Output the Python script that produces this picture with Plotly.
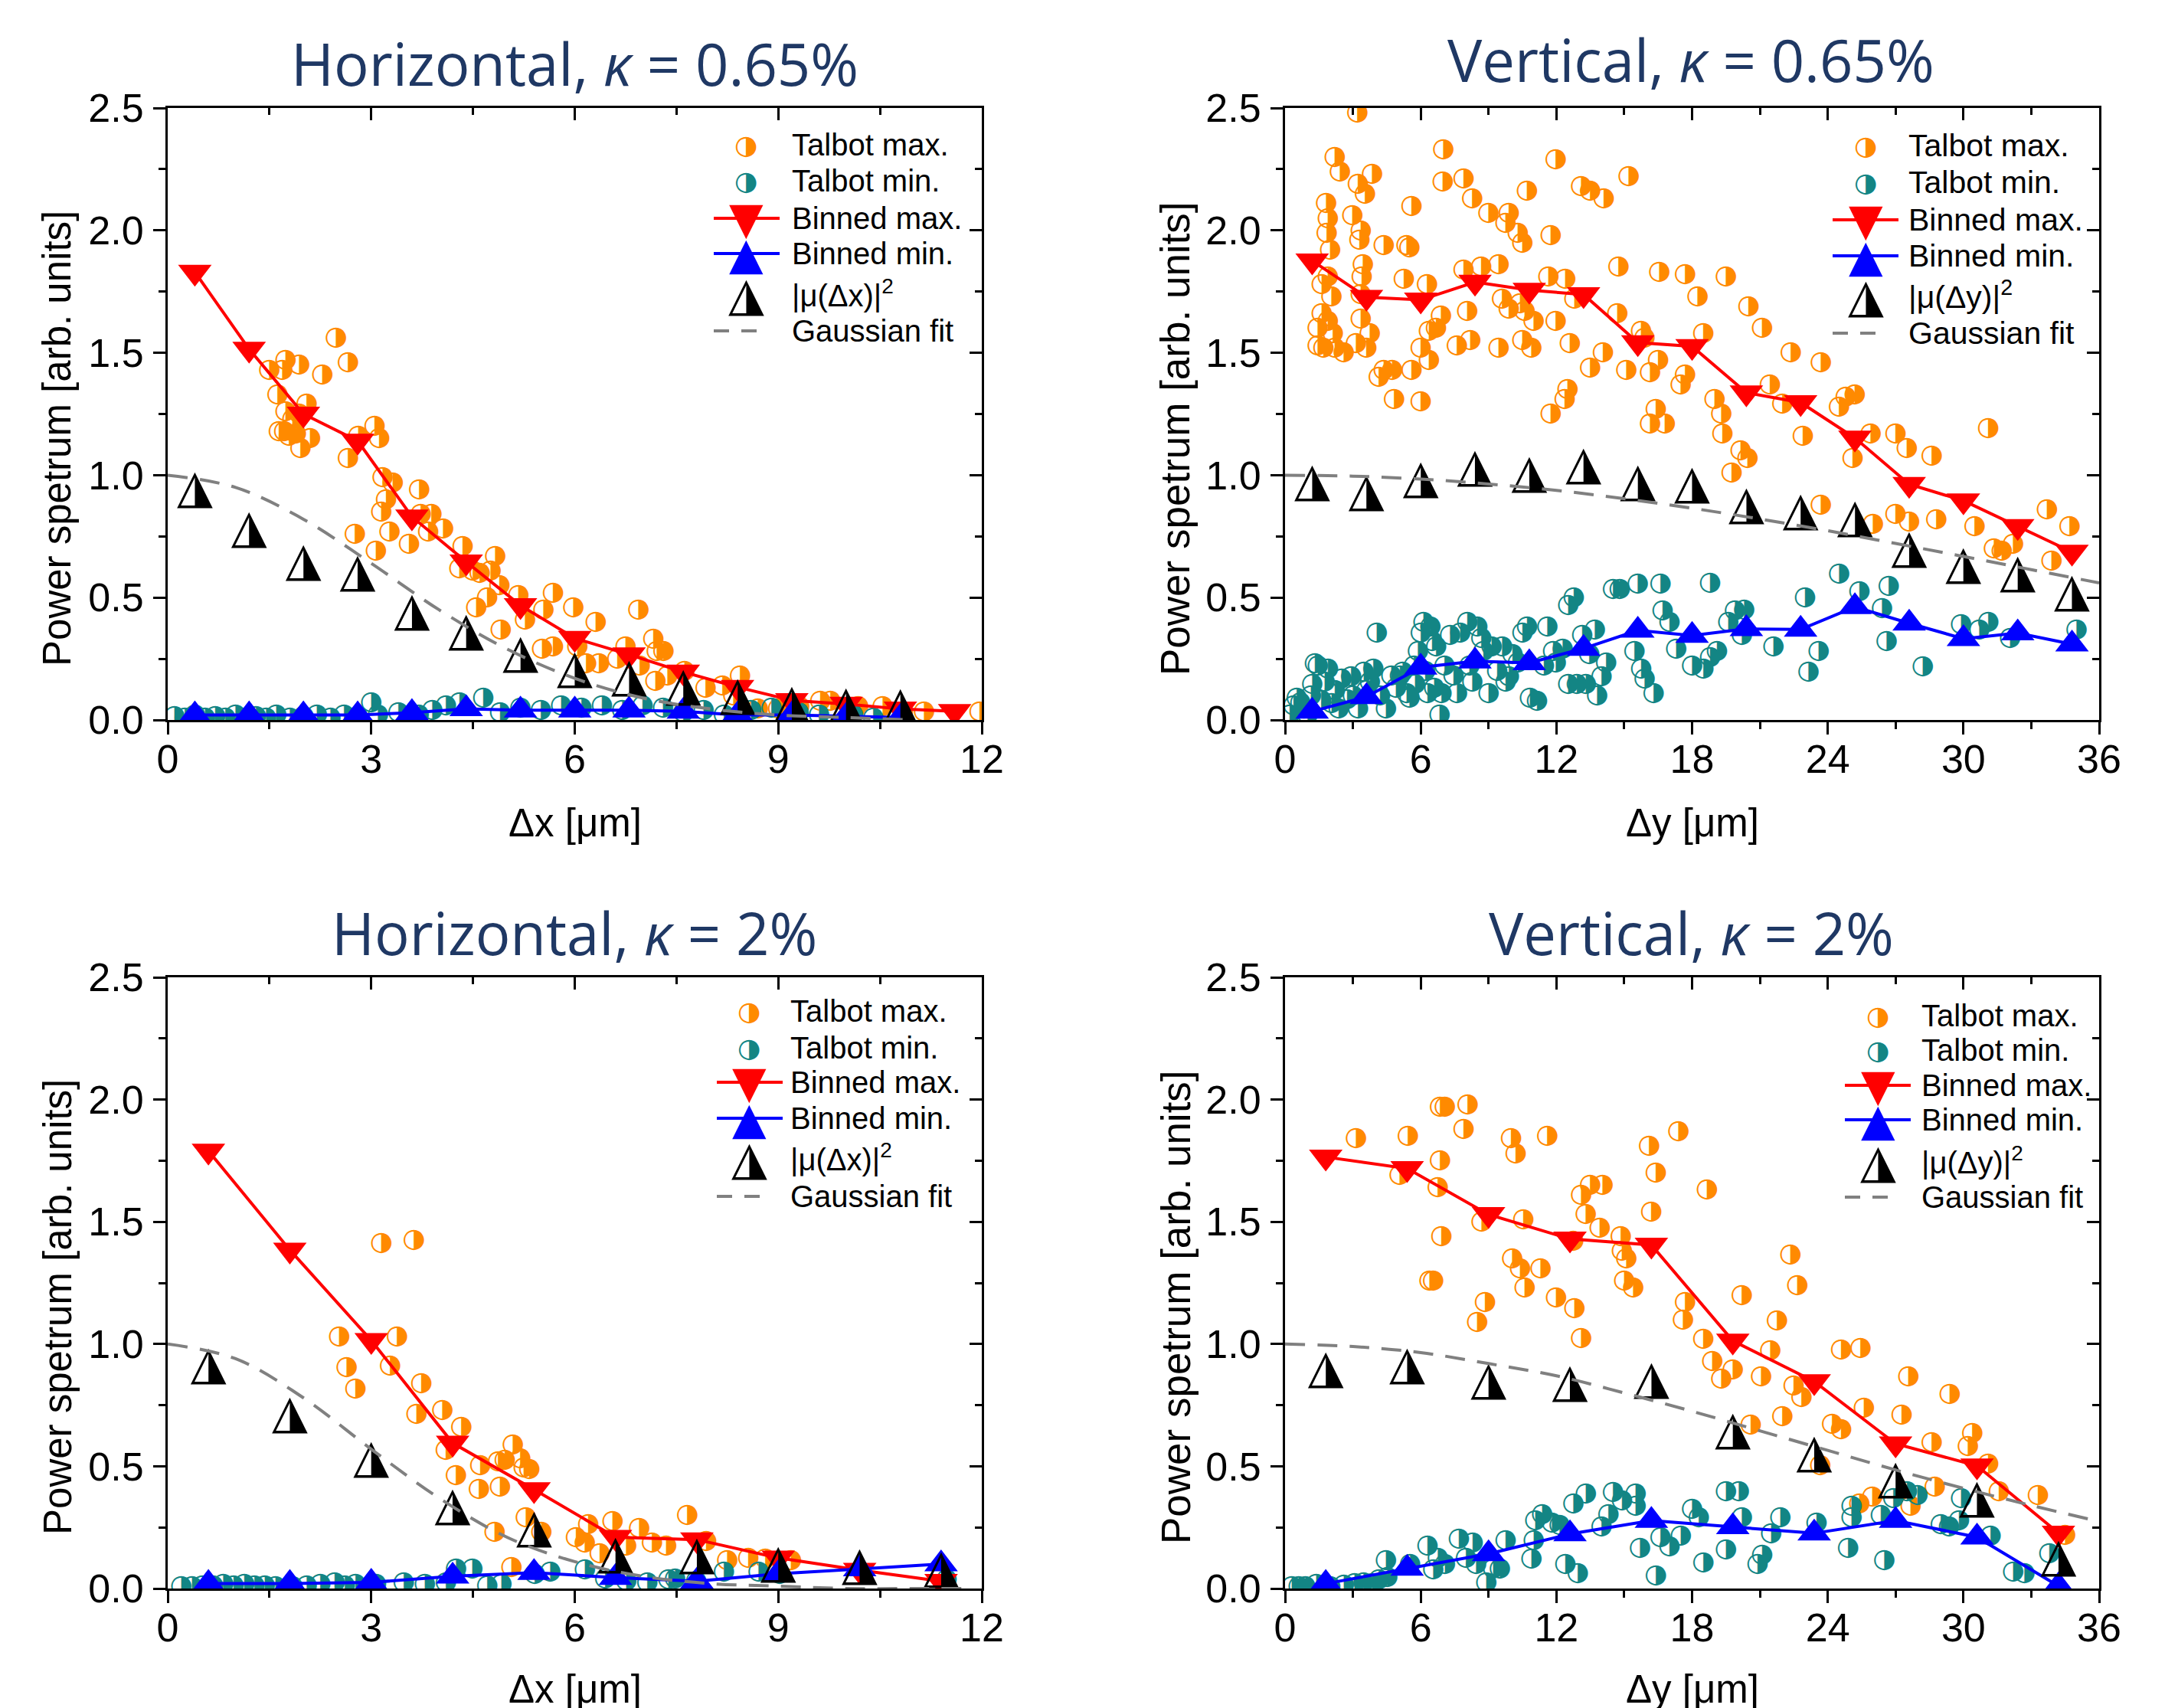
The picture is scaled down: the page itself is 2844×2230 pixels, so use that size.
import plotly.graph_objects as go

W, H = 2844, 2230
PAGE_OFFSET = 8  # the page body margin shifts the figure by this many pixels
ORANGE = '#FF8A00'
TEAL = '#138584'
RED = '#FF0000'
BLUE = '#0000FF'
GRAY = '#808080'
NAVY = '#1F3864'
SANS = 'Liberation Sans, Arial, sans-serif'
GLYPH = 'DejaVu Sans'

# ---------------- Panel A: Horizontal, kappa = 0.65 % ----------------
a_tmax_x = [1.50, 1.69, 1.74, 1.94, 2.28, 2.48, 2.66, 1.62, 1.74, 1.84,
            1.64, 1.79, 1.89, 1.96, 2.10, 2.05, 1.94, 1.72, 2.66, 2.81,
            3.05, 3.12, 3.17, 3.22, 3.32, 3.15, 3.27, 2.76, 3.07, 3.56,
            3.71, 3.73, 3.89, 4.06, 3.84, 4.35, 4.30, 4.50, 4.60, 4.76,
            4.83, 4.89, 4.71, 4.55, 4.91, 5.17, 5.27, 5.54, 5.68, 5.52,
            5.68, 5.98, 6.31, 6.04, 6.17, 6.36, 6.63, 6.75, 6.94, 6.96,
            7.16, 7.21, 7.31, 7.19, 7.37, 7.62, 7.93, 8.18, 8.44, 8.34,
            8.70, 9.00, 9.31, 9.62, 9.77, 10.18, 10.54, 10.84, 11.15, 11.97]
a_tmax_y = [1.43, 1.43, 1.47, 1.45, 1.41, 1.56, 1.46, 1.33, 1.26, 1.23,
            1.18, 1.16, 1.17, 1.11, 1.15, 1.29, 1.25, 1.18, 1.07, 1.16,
            1.20, 1.15, 0.99, 0.90, 0.97, 0.85, 0.77, 0.76, 0.69, 0.72,
            0.94, 0.84, 0.84, 0.78, 0.77, 0.71, 0.62, 0.61, 0.60, 0.61,
            0.67, 0.55, 0.50, 0.46, 0.37, 0.51, 0.41, 0.45, 0.52, 0.29,
            0.30, 0.46, 0.40, 0.30, 0.23, 0.23, 0.25, 0.30, 0.45, 0.22,
            0.33, 0.28, 0.28, 0.16, 0.18, 0.20, 0.13, 0.14, 0.18, 0.10,
            0.045, 0.045, 0.056, 0.078, 0.078, 0.056, 0.056, 0.033, 0.033, 0.033]
a_tmin_x = [0.1, 0.25, 0.4, 0.55, 0.7, 0.85, 1.0, 1.15, 1.3, 1.45,
            1.6, 1.8, 2.0, 2.2, 2.4, 2.6, 2.8, 3.0, 3.1, 3.4,
            3.7, 3.9, 4.1, 4.3, 4.65, 4.9, 5.2, 5.5, 5.8, 6.1,
            6.4, 6.7, 7.0, 7.3, 7.6, 7.9, 8.2, 8.6, 8.9, 9.3,
            9.6, 10.1, 10.4]
a_tmin_y = [0.015, 0.01, 0.02, 0.01, 0.015, 0.01, 0.02, 0.01, 0.015, 0.01,
            0.02, 0.01, 0.015, 0.02, 0.01, 0.02, 0.015, 0.07, 0.02, 0.03,
            0.02, 0.04, 0.06, 0.07, 0.09, 0.03, 0.05, 0.04, 0.06, 0.05,
            0.06, 0.04, 0.06, 0.05, 0.03, 0.04, 0.02, 0.04, 0.05, 0.03,
            0.02, 0.02, 0.01]
a_bmax_x = [0.4, 1.2, 2.0, 2.8, 3.6, 4.4, 5.2, 6.0, 6.8, 7.6, 8.4, 9.2, 10.0, 10.8, 11.6]
a_bmax_y = [1.83, 1.515, 1.25, 1.14, 0.83, 0.646, 0.468, 0.334, 0.267, 0.196, 0.134, 0.08, 0.065, 0.045, 0.035]
a_bmin_x = [0.4, 1.2, 2.0, 2.8, 3.6, 4.4, 5.2, 6.0, 6.8, 7.6, 8.4, 9.2, 10.0, 10.8]
a_bmin_y = [0.02, 0.02, 0.02, 0.02, 0.03, 0.045, 0.04, 0.04, 0.04, 0.035, 0.02, 0.02, 0.015, 0.01]
a_mu_x = [0.4, 1.2, 2.0, 2.8, 3.6, 4.4, 5.2, 6.0, 6.8, 7.6, 8.4, 9.2, 10.0, 10.8]
a_mu_y = [0.935, 0.775, 0.64, 0.595, 0.437, 0.355, 0.265, 0.20, 0.166, 0.13, 0.09, 0.06, 0.055, 0.05]
a_fit_x = [0, 1, 2, 3, 4, 5, 6, 7, 8, 9, 10, 11]
a_fit_y = [1.0, 0.95, 0.82, 0.64, 0.45, 0.29, 0.17, 0.09, 0.045, 0.02, 0.01, 0.0]

# ---------------- Panel B: Vertical, kappa = 0.65 % ----------------
b_tmax_x = [3.2, 2.2, 2.43, 3.23, 3.85, 3.54, 7.0, 6.98, 7.9, 8.28,
            11.97, 10.7, 13.1, 13.5, 14.1, 15.2, 1.82, 1.9, 1.85, 2.0,
            2.98, 3.35, 3.29, 4.37, 5.6, 5.38, 5.5, 9.0, 9.9, 9.75,
            10.3, 10.5, 11.75, 1.63, 1.9, 2.06, 3.45, 3.4, 3.35, 1.63,
            1.45, 1.9, 2.12, 1.45, 1.7, 2.2, 2.6, 3.14, 3.6, 3.75,
            3.35, 5.26, 6.28, 7.9, 8.68, 9.45, 8.06, 6.9, 6.68, 6.37,
            6.0, 7.6, 8.2, 9.45, 9.6, 9.9, 10.4, 10.6, 11.0, 10.5,
            10.9, 11.65, 11.97, 12.6, 12.8, 12.4, 4.15, 4.37, 4.74, 4.83,
            5.6, 6.0, 6.37, 13.5, 14.06, 14.7, 14.75, 15.1, 15.75, 15.9,
            16.15, 16.5, 16.55, 16.15, 16.8, 16.4, 11.75, 12.37, 12.5, 17.7,
            18.25, 18.5, 17.5, 17.7, 19.0, 19.3, 19.5, 19.35, 20.15, 20.46,
            19.75, 20.5, 21.1, 21.45, 22.0, 22.37, 22.9, 23.7, 23.7, 24.5,
            24.8, 25.2, 25.1, 25.9, 26.0, 27.0, 27.5, 28.6, 27.0, 27.6,
            28.8, 31.1, 30.5, 31.35, 31.7, 32.2, 33.7, 33.9, 34.7]
b_tmax_y = [2.48, 2.30, 2.24, 2.19, 2.23, 2.15, 2.33, 2.20, 2.21, 2.13,
            2.29, 2.16, 2.18, 2.16, 2.13, 2.22, 2.11, 2.05, 1.99, 1.92,
            2.06, 2.00, 1.96, 1.94, 2.10, 1.94, 1.93, 2.07, 2.07, 2.03,
            1.99, 1.95, 1.98, 1.78, 1.81, 1.73, 1.86, 1.81, 1.74, 1.66,
            1.60, 1.63, 1.58, 1.53, 1.52, 1.52, 1.50, 1.54, 1.52, 1.58,
            1.64, 1.80, 1.78, 1.84, 1.85, 1.86, 1.67, 1.65, 1.60, 1.59,
            1.52, 1.53, 1.55, 1.52, 1.72, 1.68, 1.70, 1.67, 1.63, 1.55,
            1.52, 1.81, 1.63, 1.54, 1.72, 1.80, 1.40, 1.43, 1.43, 1.31,
            1.43, 1.30, 1.47, 1.44, 1.50, 1.66, 1.85, 1.43, 1.59, 1.56,
            1.42, 1.47, 1.83, 1.21, 1.21, 1.27, 1.25, 1.31, 1.35, 1.82,
            1.73, 1.58, 1.37, 1.41, 1.31, 1.25, 1.81, 1.17, 1.10, 1.07,
            1.01, 1.69, 1.60, 1.37, 1.29, 1.50, 1.16, 1.46, 0.88, 1.28,
            1.32, 1.33, 1.07, 1.17, 0.80, 1.17, 1.11, 1.08, 0.84, 0.81,
            0.82, 1.19, 0.79, 0.70, 0.69, 0.72, 0.86, 0.65, 0.79]
b_tmin_x = [0.2, 0.37, 0.52, 0.68, 0.83, 1.0, 1.2, 1.32, 1.45, 1.14,
            1.6, 1.75, 1.9, 2.06, 2.2, 2.37, 2.5, 2.74, 2.92, 3.0,
            3.23, 3.48, 3.6, 3.75, 3.9, 4.06, 4.2, 4.46, 4.7, 4.9,
            5.08, 5.2, 5.38, 5.5, 5.7, 5.75, 5.88, 6.0, 6.12, 6.2,
            6.3, 6.43, 6.5, 6.6, 6.68, 6.83, 6.92, 7.05, 7.3, 7.45,
            7.6, 7.75, 8.06, 8.15, 8.28, 8.5, 8.68, 8.77, 9.0, 9.14,
            9.38, 9.6, 9.75, 9.9, 10.06, 10.3, 10.5, 10.7, 10.83, 11.14,
            11.45, 11.6, 11.85, 11.97, 12.28, 12.52, 12.77, 12.52, 12.9, 13.14,
            13.3, 13.45, 13.7, 13.8, 14.0, 14.2, 14.5, 14.8, 15.45, 15.6,
            15.75, 15.9, 16.3, 16.6, 16.7, 17.0, 17.3, 18.0, 18.5, 18.8,
            19.1, 18.8, 19.6, 19.9, 20.3, 20.2, 21.6, 23.0, 23.15, 23.6,
            24.5, 25.4, 26.4, 26.7, 26.6, 28.2, 29.9, 30.7, 31.1, 32.06,
            35.0]
b_tmin_y = [0.02, 0.06, 0.09, 0.07, 0.045, 0.02, 0.145, 0.23, 0.22, 0.10,
            0.08, 0.156, 0.21, 0.067, 0.12, 0.045, 0.167, 0.085, 0.178, 0.10,
            0.045, 0.196, 0.12, 0.156, 0.21, 0.356, 0.10, 0.045, 0.18, 0.13,
            0.18, 0.196, 0.11, 0.09, 0.22, 0.145, 0.28, 0.356, 0.40, 0.20,
            0.11, 0.38, 0.32, 0.13, 0.30, 0.02, 0.11, 0.22, 0.345, 0.18,
            0.11, 0.356, 0.40, 0.22, 0.156, 0.38, 0.334, 0.28, 0.11, 0.30,
            0.20, 0.30, 0.156, 0.178, 0.267, 0.234, 0.356, 0.38, 0.09, 0.078,
            0.22, 0.38, 0.28, 0.234, 0.29, 0.47, 0.50, 0.145, 0.145, 0.345,
            0.145, 0.267, 0.368, 0.10, 0.178, 0.234, 0.535, 0.535, 0.28, 0.557,
            0.21, 0.167, 0.11, 0.557, 0.446, 0.40, 0.29, 0.22, 0.21, 0.256,
            0.28, 0.56, 0.40, 0.446, 0.45, 0.345, 0.30, 0.50, 0.196, 0.28,
            0.597, 0.524, 0.457, 0.546, 0.323, 0.218, 0.39, 0.367, 0.40, 0.334,
            0.367]
b_bin_x = [1.2, 3.6, 6.0, 8.4, 10.8, 13.2, 15.6, 18.0, 20.4, 22.8, 25.2, 27.6, 30.0, 32.4, 34.8]
b_bmax_y = [1.876, 1.727, 1.716, 1.789, 1.756, 1.738, 1.542, 1.526, 1.337, 1.297, 1.152, 0.963, 0.896, 0.791, 0.686]
b_bmin_y = [0.035, 0.095, 0.215, 0.24, 0.233, 0.292, 0.366, 0.345, 0.372, 0.37, 0.462, 0.395, 0.332, 0.355, 0.31]
b_mu_y = [0.965, 0.925, 0.978, 1.025, 1.0, 1.033, 0.965, 0.954, 0.87, 0.845, 0.817, 0.692, 0.627, 0.593, 0.513]
b_fit_x = [0, 3, 6, 9, 12, 15, 18, 21, 24, 27, 30, 33, 36]
b_fit_y = [1.0, 0.996, 0.984, 0.964, 0.938, 0.904, 0.865, 0.821, 0.773, 0.721, 0.668, 0.614, 0.56]

# ---------------- Panel C: Horizontal, kappa = 2 % ----------------
c_tmax_x = [3.15, 3.63, 2.53, 3.38, 2.64, 3.28, 2.77, 3.74, 3.67, 4.05,
            4.1, 4.33, 4.25, 4.61, 4.59, 4.9, 4.87, 4.97, 5.09, 5.2,
            5.25, 5.33, 4.82, 5.28, 5.51, 5.07, 6.02, 6.15, 6.2, 6.37,
            6.56, 6.76, 6.95, 7.14, 7.35, 7.66, 7.94, 8.25, 8.56, 8.81,
            9.19]
c_tmax_y = [1.413, 1.424, 1.029, 1.029, 0.906, 0.91, 0.817, 0.839, 0.712, 0.728,
            0.565, 0.66, 0.464, 0.504, 0.408, 0.415, 0.52, 0.527, 0.587, 0.531,
            0.493, 0.487, 0.23, 0.292, 0.23, 0.087, 0.208, 0.188, 0.263, 0.143,
            0.275, 0.174, 0.248, 0.188, 0.174, 0.30, 0.192, 0.114, 0.125, 0.12,
            0.114]
c_tmin_x = [0.2, 0.36, 0.51, 0.67, 0.82, 0.97, 1.13, 1.28, 1.43, 1.59,
            1.84, 2.05, 2.25, 2.46, 2.61, 2.77, 3.07, 3.48, 3.79, 4.1,
            4.25, 4.49, 4.71, 4.92, 5.41, 5.64, 6.15, 6.45, 6.76, 7.07,
            7.38, 7.48, 7.79, 8.2, 8.71, 9.02, 11.48]
c_tmin_y = [0.01, 0.01, 0.013, 0.013, 0.018, 0.013, 0.018, 0.013, 0.013, 0.01,
            0.01, 0.013, 0.018, 0.025, 0.013, 0.018, 0.018, 0.025, 0.018, 0.025,
            0.08, 0.08, 0.013, 0.018, 0.058, 0.069, 0.076, 0.04, 0.03, 0.025,
            0.036, 0.04, 0.03, 0.069, 0.069, 0.058, 0.036]
c_bin_x = [0.6, 1.8, 3.0, 4.2, 5.4, 6.6, 7.8, 9.0, 10.2, 11.4]
c_bmax_y = [1.79, 1.385, 1.015, 0.595, 0.405, 0.21, 0.2, 0.125, 0.075, 0.03]
c_bmin_y = [0.02, 0.02, 0.025, 0.05, 0.065, 0.045, 0.03, 0.06, 0.08, 0.10]
c_mu_y = [0.905, 0.707, 0.523, 0.33, 0.24, 0.133, 0.128, 0.094, 0.085, 0.072]
c_fit_x = [0, 1, 2, 3, 4, 5, 6, 7, 8, 9, 10, 11, 11.8]
c_fit_y = [1.0, 0.94, 0.78, 0.57, 0.37, 0.21, 0.11, 0.05, 0.02, 0.01, 0.0, 0.0, 0.0]

# ---------------- Panel D: Vertical, kappa = 2 % ----------------
d_tmax_x = [3.14, 5.44, 5.07, 6.86, 7.07, 8.08, 7.9, 6.86, 6.76, 6.92,
            6.39, 6.55, 8.85, 8.5, 8.7, 10.0, 10.2, 10.54, 10.4, 10.6,
            10.05, 11.3, 11.6, 11.99, 12.8, 12.75, 13.1, 13.1, 13.3, 13.5,
            14.05, 13.92, 14.85, 14.9, 15.1, 15.0, 15.4, 16.1, 16.4, 16.2,
            17.4, 18.66, 17.7, 17.6, 18.5, 18.9, 19.3, 19.8, 20.2, 20.6,
            21.06, 21.46, 21.76, 22.0, 22.35, 22.66, 22.5, 22.84, 24.2, 24.6,
            24.6, 25.45, 25.6, 25.4, 25.98, 27.27, 27.57, 27.67, 28.74, 28.6,
            29.4, 30.2, 30.4, 31.1, 31.57, 33.3, 34.5, 23.67]
d_tmax_y = [1.84, 1.85, 1.69, 1.97, 1.97, 1.98, 1.88, 1.75, 1.64, 1.44,
            1.26, 1.26, 1.17, 1.09, 1.50, 1.84, 1.78, 1.51, 1.31, 1.23,
            1.35, 1.31, 1.85, 1.19, 1.147, 1.42, 1.025, 1.61, 1.53, 1.65,
            1.65, 1.475, 1.44, 1.38, 1.35, 1.26, 1.23, 1.81, 1.70, 1.54,
            1.87, 1.63, 1.17, 1.10, 1.02, 0.93, 0.857, 0.895, 1.20, 0.67,
            0.866, 0.973, 1.096, 0.705, 1.364, 1.241, 0.828, 0.783, 0.672, 0.65,
            0.978, 0.984, 0.739, 0.348, 0.375, 0.71, 0.868, 0.337, 0.415, 0.598,
            0.795, 0.583, 0.634, 0.509, 0.397, 0.382, 0.219, 0.504]
d_tmin_x = [0.3, 0.6, 0.9, 1.38, 2.0, 2.6, 3.07, 3.47, 3.85, 4.15,
            4.46, 4.52, 5.53, 6.3, 6.55, 6.76, 7.07, 7.69, 8.0, 8.3,
            8.45, 8.9, 9.2, 9.5, 9.75, 10.9, 11.0, 11.07, 11.37, 11.8,
            12.14, 12.4, 12.75, 12.95, 13.3, 14.0, 14.3, 14.5, 14.9, 15.5,
            15.5, 15.7, 16.4, 16.6, 17.0, 17.5, 18.0, 18.3, 18.5, 19.5,
            20.07, 19.5, 20.2, 20.9, 21.1, 21.5, 21.9, 23.5, 24.9, 25.05,
            25.05, 26.35, 26.5, 26.9, 27.5, 27.97, 29.0, 29.36, 29.9, 29.8,
            31.2, 32.2, 32.7, 33.8]
d_tmin_y = [0.01, 0.01, 0.01, 0.018, 0.01, 0.015, 0.022, 0.025, 0.02, 0.036,
            0.114, 0.047, 0.10, 0.174, 0.076, 0.125, 0.10, 0.203, 0.125, 0.188,
            0.10, 0.025, 0.08, 0.08, 0.196, 0.12, 0.196, 0.277, 0.304, 0.27,
            0.259, 0.098, 0.348, 0.0625, 0.388, 0.254, 0.304, 0.393, 0.36, 0.337,
            0.388, 0.165, 0.054, 0.21, 0.17, 0.214, 0.326, 0.292, 0.107, 0.397,
            0.397, 0.158, 0.292, 0.10, 0.136, 0.225, 0.292, 0.27, 0.165, 0.337,
            0.292, 0.299, 0.114, 0.37, 0.397, 0.382, 0.263, 0.254, 0.37, 0.277,
            0.214, 0.069, 0.0625, 0.143]
d_bin_x = [1.8, 5.4, 9.0, 12.6, 16.2, 19.8, 23.4, 27.0, 30.6, 34.2]
d_bmax_y = [1.765, 1.718, 1.53, 1.43, 1.405, 1.013, 0.847, 0.592, 0.502, 0.227]
d_bmin_y = [0.02, 0.082, 0.142, 0.223, 0.278, 0.252, 0.226, 0.278, 0.21, 0.01]
d_mu_y = [0.89, 0.907, 0.843, 0.835, 0.846, 0.64, 0.545, 0.44, 0.36, 0.12]
d_fit_x = [0, 3, 6, 9, 12, 15, 18, 21, 24, 27, 30, 33, 35.5]
d_fit_y = [1.0, 0.99, 0.965, 0.92, 0.87, 0.80, 0.725, 0.645, 0.565, 0.485, 0.41, 0.34, 0.285]

# ---------------- text ----------------
titles = ['Horizontal, <i>κ</i> = 0.65%', 'Vertical, <i>κ</i> = 0.65%',
          'Horizontal, <i>κ</i> = 2%', 'Vertical, <i>κ</i> = 2%']
x_titles = ['Δx [μm]', 'Δy [μm]', 'Δx [μm]', 'Δy [μm]']
y_title = 'Power spetrum [arb. units]'
legend_labels = ['Talbot max.', 'Talbot min.', 'Binned max.', 'Binned min.']
mu_labels = ['|μ(Δx)|<sup>2</sup>', '|μ(Δy)|<sup>2</sup>',
             '|μ(Δx)|<sup>2</sup>', '|μ(Δy)|<sup>2</sup>']
fit_label = 'Gaussian fit'

panels = [
    dict(tmax=(a_tmax_x, a_tmax_y), tmin=(a_tmin_x, a_tmin_y), bmax=(a_bmax_x, a_bmax_y),
         bmin=(a_bmin_x, a_bmin_y), mu=(a_mu_x, a_mu_y), fit=(a_fit_x, a_fit_y),
         xpx=(219, 1282), ypx=(141, 940), xmax=12, dtick=3,
         title_xy=(750, 83), xt_y=1074, yt_xy=(75, 573),
         leg=(975, 1032, [189, 236, 285, 331, 383, 432], 40)),
    dict(tmax=(b_tmax_x, b_tmax_y), tmin=(b_tmin_x, b_tmin_y), bmax=(b_bin_x, b_bmax_y),
         bmin=(b_bin_x, b_bmin_y), mu=(b_bin_x, b_mu_y), fit=(b_fit_x, b_fit_y),
         xpx=(1678, 2741), ypx=(141, 940), xmax=36, dtick=6,
         title_xy=(2208, 78), xt_y=1074, yt_xy=(1535, 573),
         leg=(2436, 2490, [190, 238, 287, 334, 385, 435], 41)),
    dict(tmax=(c_tmax_x, c_tmax_y), tmin=(c_tmin_x, c_tmin_y), bmax=(c_bin_x, c_bmax_y),
         bmin=(c_bin_x, c_bmin_y), mu=(c_bin_x, c_mu_y), fit=(c_fit_x, c_fit_y),
         xpx=(219, 1282), ypx=(1276, 2074), xmax=12, dtick=3,
         title_xy=(750, 1217), xt_y=2205, yt_xy=(75, 1707),
         leg=(979, 1030, [1320, 1368, 1413, 1460, 1511, 1562], 40)),
    dict(tmax=(d_tmax_x, d_tmax_y), tmin=(d_tmin_x, d_tmin_y), bmax=(d_bin_x, d_bmax_y),
         bmin=(d_bin_x, d_bmin_y), mu=(d_bin_x, d_mu_y), fit=(d_fit_x, d_fit_y),
         xpx=(1678, 2741), ypx=(1276, 2074), xmax=36, dtick=6,
         title_xy=(2208, 1217), xt_y=2205, yt_xy=(1535, 1707),
         leg=(2452, 2507, [1326, 1371, 1417, 1462, 1515, 1563], 40)),
]

CIRC = '◑'
MUTRI = '◮'
CIRC_SIZE = 35
MUTRI_SIZE = 61
LEG_TRI_SIZE = 58
BIN_SIZE = 38


def px(x):
    return (x - PAGE_OFFSET) / W


def py(y):
    return 1 - (y - PAGE_OFFSET) / H


fig = go.Figure()
annotations = []
shapes = []
layout = {}

for i, p in enumerate(panels, start=1):
    sfx = '' if i == 1 else str(i)
    xa, ya = 'x' + sfx, 'y' + sfx
    xo, yo = 'x' + str(i + 4), 'y' + str(i + 4)
    common = dict(xaxis=xa, yaxis=ya, showlegend=False, hoverinfo='skip')

    fig.add_trace(go.Scatter(x=p['tmax'][0], y=p['tmax'][1], mode='text', text=[CIRC] * len(p['tmax'][0]),
                             textposition='middle center',
                             textfont=dict(family=GLYPH, size=CIRC_SIZE, color=ORANGE), **common))
    fig.add_trace(go.Scatter(x=p['tmin'][0], y=p['tmin'][1], mode='text', text=[CIRC] * len(p['tmin'][0]),
                             textposition='middle center',
                             textfont=dict(family=GLYPH, size=CIRC_SIZE, color=TEAL), **common))
    fig.add_trace(go.Scatter(x=p['bmax'][0], y=p['bmax'][1], mode='lines+markers',
                             line=dict(color=RED, width=4),
                             marker=dict(symbol='triangle-down', size=BIN_SIZE, color=RED, line=dict(width=0)),
                             **common))
    fig.add_trace(go.Scatter(x=p['bmin'][0], y=p['bmin'][1], mode='lines+markers',
                             line=dict(color=BLUE, width=4),
                             marker=dict(symbol='triangle-up', size=BIN_SIZE, color=BLUE, line=dict(width=0)),
                             **common))
    fig.add_trace(go.Scatter(x=p['mu'][0], y=p['mu'][1], mode='text', text=[MUTRI] * len(p['mu'][0]),
                             textposition='middle center',
                             textfont=dict(family=GLYPH, size=MUTRI_SIZE, color='black'), **common))
    fig.add_trace(go.Scatter(x=p['fit'][0], y=p['fit'][1], mode='lines', line_shape='spline',
                             line=dict(color=GRAY, width=4, dash='26px,16px'), **common))
    # invisible trace to carry the mirrored (top / right) tick axes
    fig.add_trace(go.Scatter(x=[], y=[], xaxis=xo, yaxis=yo, showlegend=False, hoverinfo='skip'))

    xdom = [px(p['xpx'][0]), px(p['xpx'][1])]
    ydom = [py(p['ypx'][1]), py(p['ypx'][0])]
    tickfont = dict(family=SANS, size=52, color='black')
    layout['xaxis' + sfx] = dict(
        domain=xdom, anchor=ya, range=[0, p['xmax']], tickmode='linear', tick0=0, dtick=p['dtick'],
        ticks='outside', ticklen=16, tickwidth=3, tickcolor='black', showline=True, linewidth=3,
        linecolor='black', mirror=True, showgrid=False, zeroline=False, tickfont=tickfont,
        ticklabelstandoff=-12, automargin=False,
        minor=dict(ticks='outside', ticklen=9, tickwidth=3, tickcolor='black', dtick=p['dtick'] / 2, tick0=0))
    layout['yaxis' + sfx] = dict(
        domain=ydom, anchor=xa, range=[0, 2.5], tickmode='linear', tick0=0, dtick=0.5, tickformat='.1f',
        ticks='outside', ticklen=16, tickwidth=3, tickcolor='black', showline=True, linewidth=3,
        linecolor='black', mirror=True, showgrid=False, zeroline=False, tickfont=tickfont,
        ticklabelstandoff=2, automargin=False,
        minor=dict(ticks='outside', ticklen=9, tickwidth=3, tickcolor='black', dtick=0.25, tick0=0))
    layout['xaxis' + str(i + 4)] = dict(
        overlaying=xa, anchor=ya, side='top', range=[0, p['xmax']], tickmode='linear', tick0=0,
        dtick=p['dtick'], ticks='inside', ticklen=16, tickwidth=3, tickcolor='black', showticklabels=False,
        showline=False, showgrid=False, zeroline=False, automargin=False,
        minor=dict(ticks='inside', ticklen=9, tickwidth=3, tickcolor='black', dtick=p['dtick'] / 2, tick0=0))
    layout['yaxis' + str(i + 4)] = dict(
        overlaying=ya, anchor=xa, side='right', range=[0, 2.5], tickmode='linear', tick0=0, dtick=0.5,
        ticks='inside', ticklen=16, tickwidth=3, tickcolor='black', showticklabels=False,
        showline=False, showgrid=False, zeroline=False, automargin=False,
        minor=dict(ticks='inside', ticklen=9, tickwidth=3, tickcolor='black', dtick=0.25, tick0=0))

    # titles
    tx, ty = p['title_xy']
    annotations.append(dict(x=px(tx), y=py(ty), xref='paper', yref='paper', text=titles[i - 1],
                            showarrow=False, xanchor='center', yanchor='middle',
                            font=dict(family='Open Sans', size=76, color=NAVY)))
    cx = (p['xpx'][0] + p['xpx'][1]) / 2
    annotations.append(dict(x=px(cx), y=py(p['xt_y']), xref='paper', yref='paper', text=x_titles[i - 1],
                            showarrow=False, xanchor='center', yanchor='middle',
                            font=dict(family=SANS, size=51, color='black')))
    yx, yy = p['yt_xy']
    annotations.append(dict(x=px(yx), y=py(yy), xref='paper', yref='paper', text=y_title, textangle=-90,
                            showarrow=False, xanchor='center', yanchor='middle',
                            font=dict(family=SANS, size=51 if i % 2 else 53, color='black')))

    # legend
    sx, lx, rows, lfs = p['leg']
    labels = legend_labels + [mu_labels[i - 1], fit_label]
    for r, lab in zip(rows, labels):
        annotations.append(dict(x=px(lx), y=py(r), xref='paper', yref='paper', text=lab, showarrow=False,
                                xanchor='left', yanchor='middle', font=dict(family=SANS, size=lfs, color='black')))
    shapes.append(dict(type='line', xref='paper', yref='paper', x0=px(sx - 43), x1=px(sx + 43),
                       y0=py(rows[2]), y1=py(rows[2]), line=dict(color=RED, width=4)))
    shapes.append(dict(type='line', xref='paper', yref='paper', x0=px(sx - 43), x1=px(sx + 43),
                       y0=py(rows[3]), y1=py(rows[3]), line=dict(color=BLUE, width=4)))
    shapes.append(dict(type='line', xref='paper', yref='paper', x0=px(sx - 43), x1=px(sx + 15),
                       y0=py(rows[5]), y1=py(rows[5]), line=dict(color=GRAY, width=4, dash='20px,16px')))
    glyphs = [(CIRC, ORANGE, CIRC_SIZE, rows[0]), (CIRC, TEAL, CIRC_SIZE, rows[1]),
              ('▼', RED, LEG_TRI_SIZE, rows[2]), ('▲', BLUE, LEG_TRI_SIZE, rows[3]),
              (MUTRI, 'black', MUTRI_SIZE, rows[4])]
    for g, col, sz, r in glyphs:
        annotations.append(dict(x=px(sx), y=py(r), xref='paper', yref='paper', text=g, showarrow=False,
                                xanchor='center', yanchor='middle',
                                font=dict(family=GLYPH, size=sz, color=col)))

fig.update_layout(width=W, height=H, margin=dict(l=0, r=0, t=0, b=0, pad=0, autoexpand=False),
                  paper_bgcolor='white', plot_bgcolor='white', showlegend=False,
                  annotations=annotations, shapes=shapes, **layout)
fig.write_html('out.html')
